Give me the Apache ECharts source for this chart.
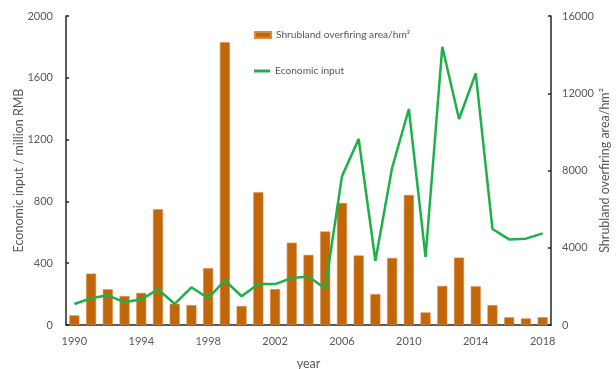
<!DOCTYPE html>
<html>
<head>
<meta charset="utf-8">
<script src="https://cdn.jsdelivr.net/npm/echarts@6/dist/echarts.min.js"></script>
<style>
  html, body { margin: 0; padding: 0; background: #ffffff; }
  #chart { width: 616px; height: 369px; }
</style>
</head>
<body>
<div id="chart"></div>
<script>
// Years on the category axis
const years = [
  '1990','1991','1992','1993','1994','1995','1996','1997','1998','1999',
  '2000','2001','2002','2003','2004','2005','2006','2007','2008','2009',
  '2010','2011','2012','2013','2014','2015','2016','2017','2018'
];

// Shrubland overfiring area (hm²), right axis
const shrublandArea = [
  500, 2660, 1850, 1500, 1660, 5990, 1100, 1030, 2940, 14640,
  980, 6870, 1860, 4260, 3630, 4840, 6320, 3600, 1600, 3470,
  6730, 650, 2020, 3490, 2000, 1030, 400, 340, 400
];

// Economic input (million RMB), left axis
const economicInput = [
  136, 173, 192, 147, 166, 231, 136, 244, 173, 289,
  186, 265, 265, 304, 314, 236, 962, 1204, 416, 1018,
  1398, 440, 1801, 1333, 1629, 621, 554, 559, 593
];

const textColor = '#595959';
const axisColor = '#262626';
const fontFamily = 'Lato, "Open Sans", sans-serif';
const plainNumber = v => String(v);

const chart = echarts.init(document.getElementById('chart'), null, { renderer: 'canvas' });

const legendBase = {
  left: 254,
  padding: 0,
  itemWidth: 16,
  textStyle: { fontSize: 10.2, color: textColor, fontFamily: fontFamily }
};

chart.setOption({
  animation: false,
  backgroundColor: '#ffffff',
  textStyle: { fontFamily: fontFamily, color: textColor },
  grid: { left: 66, right: 65, top: 16, bottom: 44, containLabel: false, outerBoundsMode: 'none' },
  legend: [
    Object.assign({}, legendBase, {
      data: [{ name: 'Shrubland overfiring area/hm²', icon: 'rect' }],
      top: 30, itemHeight: 6
    }),
    Object.assign({}, legendBase, {
      data: [{ name: 'Economic input', icon: 'rect' }],
      top: 66, itemHeight: 3
    })
  ],
  xAxis: {
    type: 'category',
    data: years,
    boundaryGap: true,
    name: 'year',
    nameLocation: 'middle',
    nameGap: 32,
    nameMoveOverlap: false,
    nameTextStyle: { fontSize: 12.5, color: textColor },
    axisLine: { lineStyle: { color: axisColor, width: 1.5 } },
    axisTick: { show: false },
    axisLabel: { interval: 3, fontSize: 11, color: textColor, margin: 11 },
    splitLine: { show: false }
  },
  yAxis: [
    {
      type: 'value',
      min: 0, max: 2000, interval: 400,
      name: 'Economic input / million RMB',
      nameLocation: 'middle',
      nameGap: 41,
      nameRotate: 90,
      nameMoveOverlap: false,
      nameTextStyle: { fontSize: 12.5, color: textColor },
      axisLine: { show: true, lineStyle: { color: axisColor, width: 1.5 } },
      axisTick: { show: true, inside: true, length: 3, lineStyle: { color: axisColor, width: 1.5 } },
      axisLabel: { fontSize: 11, color: textColor, margin: 13, formatter: plainNumber },
      splitLine: { show: false }
    },
    {
      type: 'value',
      min: 0, max: 16000, interval: 4000,
      position: 'right',
      name: 'Shrubland overfiring area/hm²',
      nameLocation: 'middle',
      nameGap: 47,
      nameRotate: 90,
      nameMoveOverlap: false,
      nameTextStyle: { fontSize: 12.5, color: textColor },
      axisLine: { show: true, lineStyle: { color: axisColor, width: 1.5 } },
      axisTick: { show: true, inside: true, length: 3, lineStyle: { color: axisColor, width: 1.5 } },
      axisLabel: { fontSize: 11, color: textColor, margin: 11, formatter: plainNumber },
      splitLine: { show: false }
    }
  ],
  series: [
    {
      name: 'Shrubland overfiring area/hm²',
      type: 'bar',
      yAxisIndex: 1,
      data: shrublandArea,
      barWidth: 10,
      itemStyle: { color: '#C2660A', borderColor: '#D98A45', borderWidth: 0.6 }
    },
    {
      name: 'Economic input',
      type: 'line',
      yAxisIndex: 0,
      data: economicInput,
      symbol: 'none',
      lineStyle: { color: '#1DB04B', width: 2.5 },
      itemStyle: { color: '#1DB04B' },
      z: 3
    }
  ]
});
</script>
</body>
</html>
